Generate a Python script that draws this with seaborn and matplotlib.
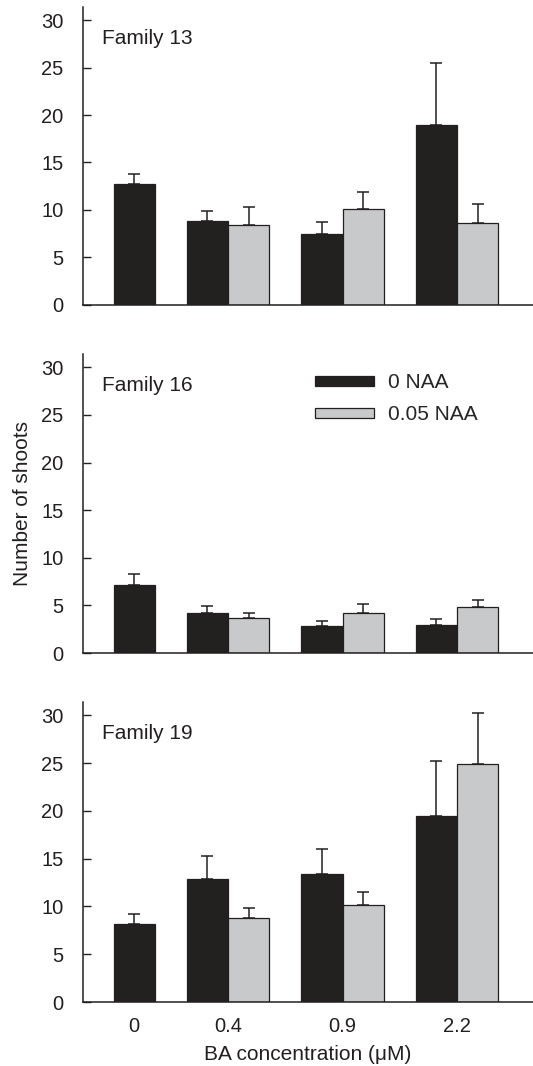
import numpy as np
import pandas as pd
import matplotlib
matplotlib.use("Agg")
import matplotlib.pyplot as plt
import seaborn as sns

# BA concentration categories and NAA treatments
ba_levels = ["0", "0.4", "0.9", "2.2"]
naa_levels = ["0 NAA", "0.05 NAA"]
families = ["Family 13", "Family 16", "Family 19"]

# mean number of shoots (NaN = treatment not tested)
f13_naa0 = [12.7, 8.8, 7.5, 18.9]
f13_naa05 = [np.nan, 8.45, 10.15, 8.6]
f16_naa0 = [7.15, 4.25, 2.8, 2.95]
f16_naa05 = [np.nan, 3.7, 4.2, 4.8]
f19_naa0 = [8.2, 12.85, 13.45, 19.45]
f19_naa05 = [np.nan, 8.75, 10.15, 24.95]

# standard errors (upper bar only)
f13_se0 = [1.1, 1.1, 1.2, 6.6]
f13_se05 = [np.nan, 1.85, 1.75, 2.05]
f16_se0 = [1.1, 0.65, 0.55, 0.65]
f16_se05 = [np.nan, 0.55, 0.9, 0.8]
f19_se0 = [1.0, 2.4, 2.55, 5.8]
f19_se05 = [np.nan, 1.05, 1.4, 5.3]

means = [(f13_naa0, f13_naa05), (f16_naa0, f16_naa05), (f19_naa0, f19_naa05)]
errs = [(f13_se0, f13_se05), (f16_se0, f16_se05), (f19_se0, f19_se05)]

sns.set_style("ticks")
plt.rcParams["font.family"] = ["Liberation Sans", "DejaVu Sans"]

colors = {"0 NAA": "#231f20", "0.05 NAA": "#c8c9cb"}

fig = plt.figure(figsize=(5.33, 10.66), dpi=100)
boxes = [(0.156, 0.714, 0.844, 0.2796),
         (0.156, 0.3874, 0.844, 0.2805),
         (0.156, 0.060, 0.844, 0.2815)]

for i, fam in enumerate(families):
    ax = fig.add_axes(boxes[i])
    rows = []
    for naa, vals, ses in zip(naa_levels, means[i], errs[i]):
        for ba, v, s in zip(ba_levels, vals, ses):
            rows.append({"BA": ba, "NAA": naa, "shoots": v, "se": s})
    df = pd.DataFrame(rows).dropna()

    sns.barplot(data=df, x="BA", y="shoots", hue="NAA", order=ba_levels,
                hue_order=naa_levels, palette=colors, errorbar=None,
                width=0.72, edgecolor="#231f20", linewidth=0.9,
                legend=(i == 1), ax=ax)

    # a lone bar starts at its category centre; tick goes under it
    ticks = list(range(len(ba_levels)))
    for naa, cont in zip(naa_levels, ax.containers):
        for bar in cont:
            bar.set_zorder(3)  # hide the lower error cap behind the bar
            xc = bar.get_x() + bar.get_width() / 2
            cat = int(round(xc))
            if (df["BA"] == ba_levels[cat]).sum() == 1:
                bar.set_x(cat)
                xc = cat + bar.get_width() / 2
                ticks[cat] = xc
            r = df[(df["BA"] == ba_levels[cat]) & (df["NAA"] == naa)].iloc[0]
            ax.errorbar(xc, r["shoots"], yerr=[[0], [r["se"]]], fmt="none",
                        ecolor="#231f20", elinewidth=1.1, capsize=4.5,
                        capthick=1.1, zorder=1)

    ax.set_xticks(ticks)
    ax.set_xticklabels(ba_levels)
    ax.set_xlim(-0.266, 3.664)
    ax.set_ylim(0, 31.4)
    ax.set_yticks([0, 5, 10, 15, 20, 25, 30])
    ax.tick_params(axis="y", direction="in", length=5.5, width=1.0,
                   pad=14, labelsize=14.5, colors="#231f20")
    ax.tick_params(axis="x", length=0, pad=11, labelsize=14.5,
                   colors="#231f20")
    sns.despine(ax=ax)
    for sp in ["left", "bottom"]:
        ax.spines[sp].set_linewidth(1.1)
        ax.spines[sp].set_color("#231f20")
        ax.spines[sp].set_zorder(4)
    ax.text(0.042, 0.895, fam, transform=ax.transAxes, fontsize=15,
            va="center", ha="left", color="#231f20")

    if i < 2:
        ax.set_xticklabels([])
        ax.set_xlabel("")
    else:
        ax.set_xlabel("BA concentration (μM)", fontsize=15, labelpad=6,
                      color="#231f20")
    if i == 1:
        ax.set_ylabel("Number of shoots", fontsize=15, labelpad=7,
                      color="#231f20")
        ax.legend(title=None, frameon=False, loc="upper left",
                  bbox_to_anchor=(0.516, 0.935), fontsize=15,
                  handlelength=2.8, handleheight=0.4, handletextpad=0.7,
                  labelspacing=0.62, borderpad=0, borderaxespad=0)
    else:
        ax.set_ylabel("")

fig.savefig("out.png", dpi=100)
